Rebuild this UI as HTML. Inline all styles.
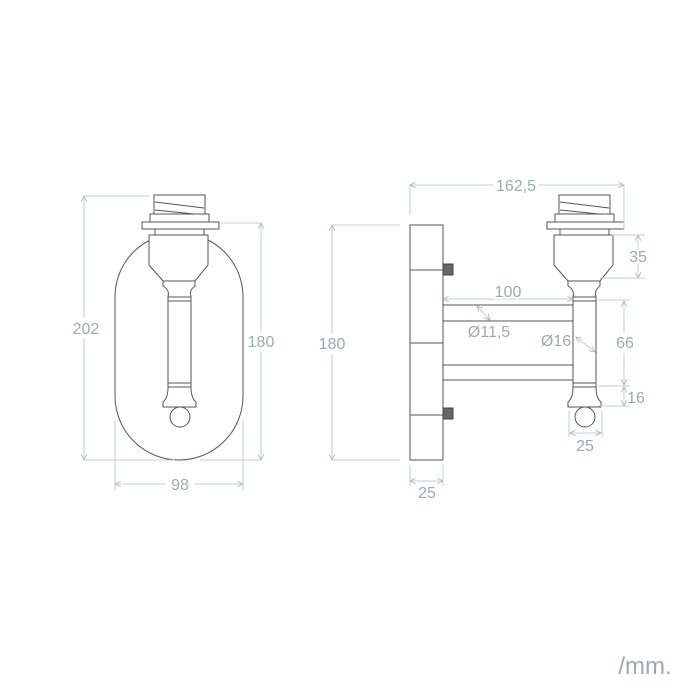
<!DOCTYPE html>
<html><head><meta charset="utf-8"><style>
html,body{margin:0;padding:0;background:#fff;}
svg{display:block;}
text{font-family:"Liberation Sans",sans-serif;fill:#9aabb0;font-size:16px;}
.d{stroke:#555;stroke-width:1;fill:none;}
.w{stroke:#555;stroke-width:1;fill:#fff;}
.m{stroke:#c3ccd0;stroke-width:1;fill:none;}
</style></head><body>
<svg width="700" height="700" viewBox="0 0 700 700" xmlns="http://www.w3.org/2000/svg">
<defs>
<marker id="a" viewBox="0 0 10 10" refX="9" refY="5" markerWidth="7" markerHeight="7" orient="auto-start-reverse"><path d="M1,1 L9,5 L1,9" fill="none" stroke="#a9b6ba" stroke-width="1.2"/></marker>
</defs>
<path class="d" d="M115,297 A64,64 0 0 1 243,297 L243,396 A64,64 0 0 1 115,396 Z"/>
<g id="lamp">
<rect class="w" x="154" y="195" width="51" height="27"/>
<path class="d" d="M155,202 L204,208 M155,210 L204,215"/>
<rect class="w" x="150" y="214" width="59" height="8"/>
<rect class="w" x="142" y="222" width="77" height="7"/>
<rect class="w" x="155" y="229" width="49" height="6"/>
<path class="w" d="M149,235 L208,235 L208,265 L195,281 L163,281 L149,265 Z"/>
<path class="w" d="M163,281 L195,281 L195,286 Q189,290 191,297 L168,297 Q170,290 163,286 Z"/>
<rect class="w" x="168" y="297" width="23" height="90"/>
<line class="d" x1="168" y1="301" x2="191" y2="301"/>
<line class="d" x1="168" y1="383" x2="191" y2="383"/>
<circle class="w" cx="180" cy="417" r="10"/>
<path class="w" d="M168,387 L191,387 Q191,398 196,402 L196,407 L163,407 L163,402 Q168,398 168,387 Z"/>
</g>
<line class="m" x1="84" y1="196" x2="84" y2="460" marker-start="url(#a)" marker-end="url(#a)"/>
<line class="m" x1="84" y1="196" x2="150" y2="196"/>
<line class="m" x1="84" y1="460" x2="175" y2="460"/>
<rect x="70" y="318" width="30" height="20" fill="#fff"/>
<text x="86" y="334" text-anchor="middle">202</text>
<line class="m" x1="261" y1="223" x2="261" y2="460" marker-start="url(#a)" marker-end="url(#a)"/>
<line class="m" x1="221" y1="223" x2="261" y2="223"/>
<line class="m" x1="200" y1="460" x2="261" y2="460"/>
<rect x="246" y="332" width="30" height="20" fill="#fff"/>
<text x="261" y="347" text-anchor="middle">180</text>
<line class="m" x1="115" y1="484" x2="243" y2="484" marker-start="url(#a)" marker-end="url(#a)"/>
<line class="m" x1="115" y1="420" x2="115" y2="490"/>
<line class="m" x1="243" y1="420" x2="243" y2="490"/>
<rect x="166" y="474" width="28" height="20" fill="#fff"/>
<text x="180" y="490" text-anchor="middle">98</text>
<rect class="w" x="410" y="225" width="33" height="235"/>
<path class="d" d="M410,270 H443 M410,343 H443 M410,415 H443"/>
<rect x="443" y="264" width="10" height="11" fill="#666" stroke="#444"/>
<rect x="443" y="408" width="10" height="11" fill="#666" stroke="#444"/>
<rect class="w" x="443" y="305" width="131" height="16"/>
<rect class="w" x="443" y="365" width="131" height="15"/>
<use href="#lamp" transform="translate(405,0)"/>
<line class="m" x1="410" y1="185" x2="624" y2="185" marker-start="url(#a)" marker-end="url(#a)"/>
<line class="m" x1="410" y1="185" x2="410" y2="215"/>
<line class="m" x1="624" y1="185" x2="624" y2="230"/>
<rect x="493" y="175" width="46" height="20" fill="#fff"/>
<text x="516" y="191" text-anchor="middle">162,5</text>
<line class="m" x1="332" y1="225" x2="332" y2="460" marker-start="url(#a)" marker-end="url(#a)"/>
<line class="m" x1="332" y1="225" x2="400" y2="225"/>
<line class="m" x1="332" y1="460" x2="400" y2="460"/>
<rect x="316" y="334" width="32" height="20" fill="#fff"/>
<text x="332" y="349" text-anchor="middle">180</text>
<line class="m" x1="638" y1="235" x2="638" y2="278" marker-start="url(#a)" marker-end="url(#a)"/>
<line class="m" x1="612" y1="235" x2="645" y2="235"/>
<line class="m" x1="600" y1="278" x2="645" y2="278"/>
<text x="638" y="262" text-anchor="middle" style="paint-order:stroke;stroke:#fff;stroke-width:4">35</text>
<line class="m" x1="443" y1="299" x2="573" y2="299" marker-start="url(#a)" marker-end="url(#a)"/>
<text x="508" y="297" text-anchor="middle" style="paint-order:stroke;stroke:#fff;stroke-width:4">100</text>
<line class="m" x1="477" y1="306" x2="490" y2="320" marker-start="url(#a)" marker-end="url(#a)"/>
<text x="489" y="337" text-anchor="middle">Ø11,5</text>
<line class="m" x1="576" y1="337" x2="595" y2="352" marker-start="url(#a)" marker-end="url(#a)"/>
<text x="556" y="346" text-anchor="middle">Ø16</text>
<line class="m" x1="624" y1="301" x2="624" y2="385" marker-start="url(#a)" marker-end="url(#a)"/>
<line class="m" x1="598" y1="300" x2="630" y2="300"/>
<line class="m" x1="598" y1="386" x2="630" y2="386"/>
<rect x="612" y="333" width="28" height="20" fill="#fff"/>
<text x="625" y="348" text-anchor="middle">66</text>
<line class="m" x1="624" y1="387" x2="624" y2="406" marker-start="url(#a)" marker-end="url(#a)"/>
<line class="m" x1="598" y1="406" x2="630" y2="406"/>
<text x="636" y="403" text-anchor="middle">16</text>
<line class="m" x1="570" y1="433" x2="601" y2="433" marker-start="url(#a)" marker-end="url(#a)"/>
<line class="m" x1="569" y1="410" x2="569" y2="437"/>
<line class="m" x1="602" y1="410" x2="602" y2="437"/>
<text x="585" y="451" text-anchor="middle">25</text>
<line class="m" x1="410" y1="481" x2="443" y2="481" marker-start="url(#a)" marker-end="url(#a)"/>
<line class="m" x1="410" y1="465" x2="410" y2="486"/>
<line class="m" x1="443" y1="465" x2="443" y2="486"/>
<text x="427" y="498" text-anchor="middle">25</text>
<text x="645" y="674" text-anchor="middle" style="font-size:24px">/mm.</text>
</svg>
</body></html>
